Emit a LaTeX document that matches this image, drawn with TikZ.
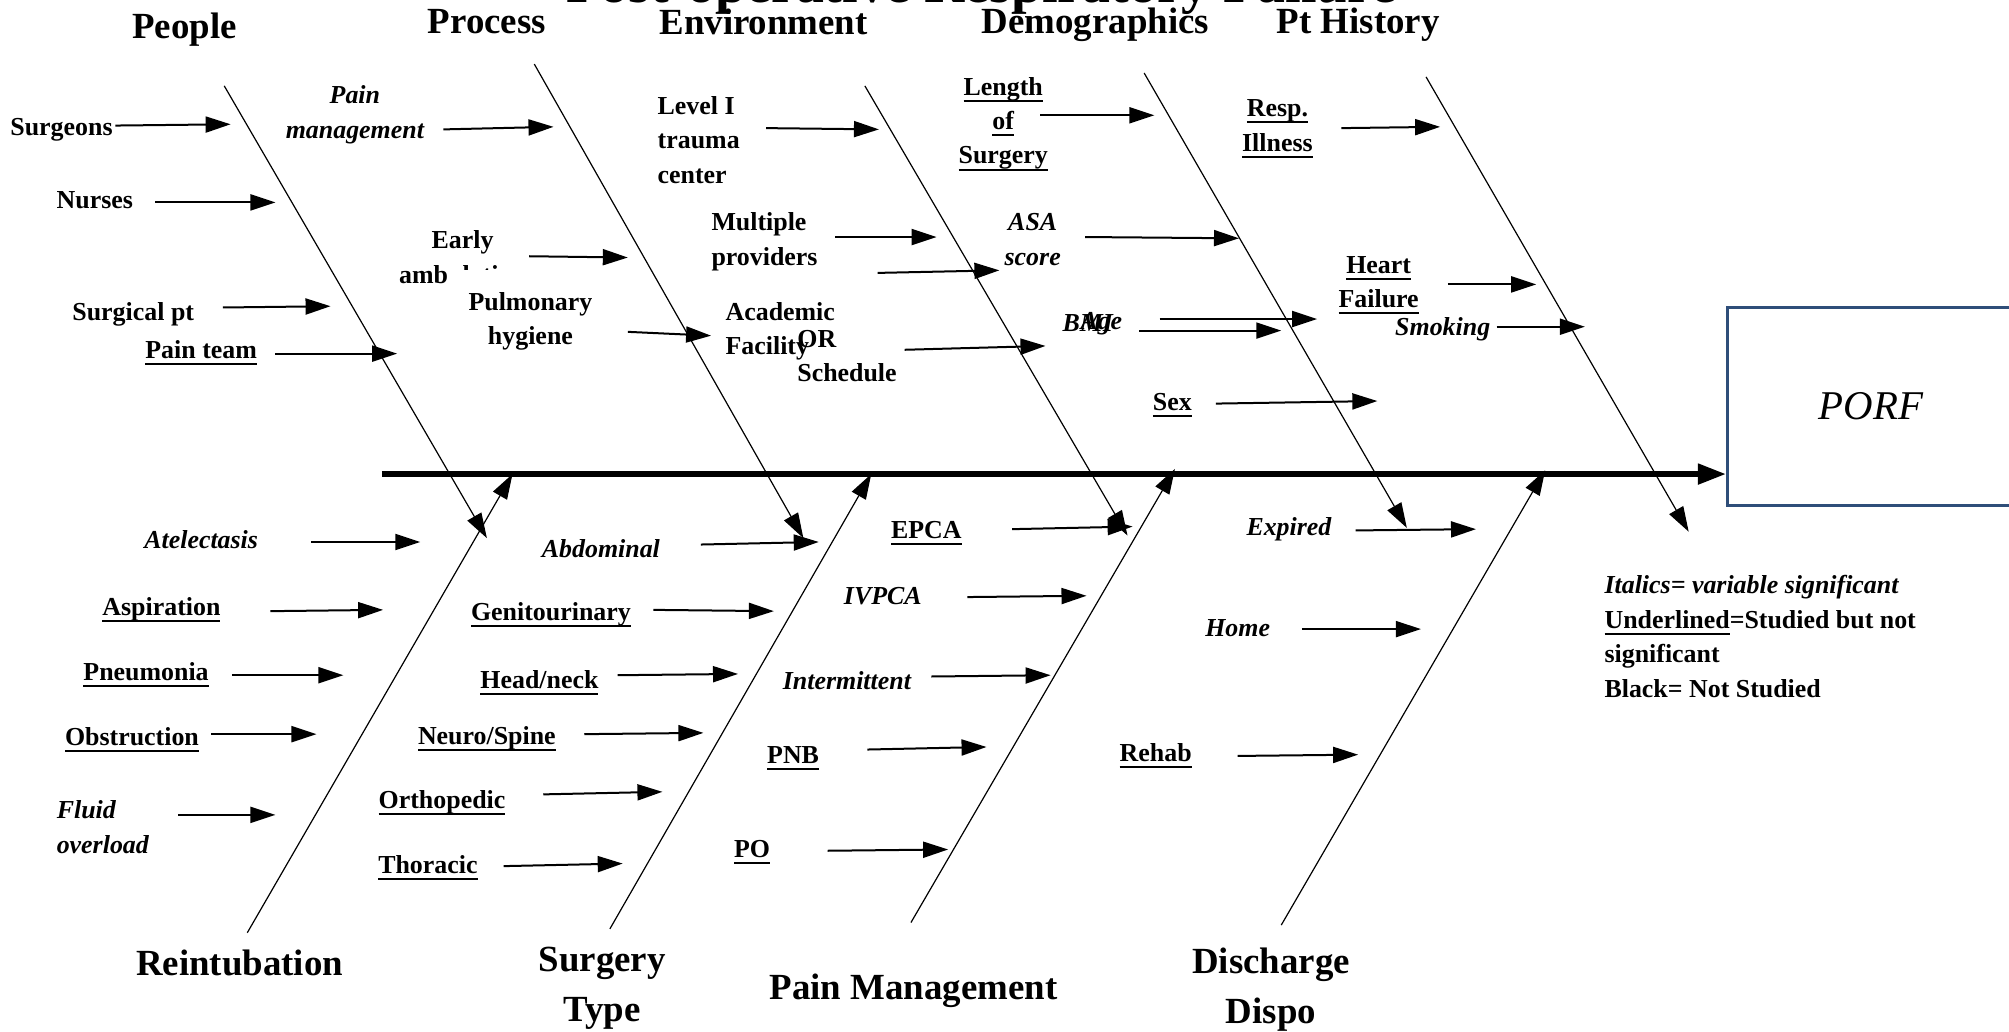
\documentclass[tikz,border=0pt]{standalone}
\usepackage{fontspec}
\setmainfont{Liberation Serif}
\usetikzlibrary{arrows.meta}

\definecolor{porfblue}{RGB}{47,78,121}

% underline at a fixed depth, as in the slide
\newcommand{\undl}[1]{\setbox0=\hbox{#1}\rlap{\rule[-3.3bp]{\wd0}{1bp}}\box0}

\tikzset{
  head/.style={font=\fontsize{18.5}{25}\selectfont\bfseries, inner sep=0pt, anchor=base, align=center},
  lbl/.style={font=\fontsize{13}{17.3}\selectfont\bfseries, inner sep=0pt, anchor=base, align=center},
  lblit/.style={lbl, font=\fontsize{13}{17.3}\selectfont\bfseries\itshape},
  lblleft/.style={lbl, align=left, anchor=base west},
  bone/.style={line width=0.6bp, -{Triangle[length=12.5bp,width=8bp]}},
  cause/.style={line width=1bp, -{Triangle[length=12.5bp,width=8bp]}},
  spine/.style={line width=2.6bp, -{Triangle[length=14bp,width=10bp]}}
}

\begin{document}
\begin{tikzpicture}[x=0.6406bp, y=-0.6406bp]
        \useasboundingbox (0,0) rectangle (1568,805);
        \clip (0,0) rectangle (1568,805);

        % Title, cut off by the top edge
        \node[font=\fontsize{28}{34}\selectfont\bfseries, inner sep=0pt, anchor=base] (title) at (766,2) {Post-operative Respiratory Failure};

        % Effect box and spine
        \node[draw=porfblue, line width=1.5bp, minimum width=143.5bp, minimum height=98.7bp, anchor=north west, inner sep=0pt, font=\fontsize{20.5}{24}\selectfont\itshape] (porf) at (1347,239) {PORF};
        \coordinate (spine) at (298,370);
        \draw[spine] (spine) -- (spine -| porf.west);

        % Category headers (multi-line ones sit on their last line)
        \node[head] (people) at (144,30) {People};
        \node[head] (process) at (380,26) {Process};
        \node[head] (environment) at (596,27) {Environment};
        \node[head] (demographics) at (855,26) {Demographics};
        \node[head] (pthistory) at (1060,26) {Pt History};
        \node[head] (reintubation) at (187,761) {Reintubation};
        \node[head] (surgerytype) at (470,797) {Surgery\\Type};
        \node[head] (painmgmt) at (713,780) {Pain Management};
        \node[head] (dispo) at (992,799) {Discharge\\Dispo};

        % Top bones (cross the spine)
        \coordinate (people-top) at (175,67);   \coordinate (people-end) at (380,420);
        \coordinate (process-top) at (417,50);  \coordinate (process-end) at (627,420);
        \coordinate (env-top) at (675,67);      \coordinate (env-end) at (880,418);
        \coordinate (demo-top) at (893,57);     \coordinate (demo-end) at (1098,412);
        \coordinate (hist-top) at (1113,60);    \coordinate (hist-end) at (1318,415);
        \draw[bone] (people-top) -- (people-end);
        \draw[bone] (process-top) -- (process-end);
        \draw[bone] (env-top) -- (env-end);
        \draw[bone] (demo-top) -- (demo-end);
        \draw[bone] (hist-top) -- (hist-end);

        % Bottom bones (end on the spine)
        \coordinate (reint-low) at (193,728);   \coordinate (reint-end) at (400,370);
        \coordinate (surg-low) at (476,725);    \coordinate (surg-end) at (680,370);
        \coordinate (pain-low) at (711,720);    \coordinate (pain-end) at (917,366);
        \coordinate (dispo-low) at (1000,722);  \coordinate (dispo-end) at (1206,367);
        \draw[bone] (reint-low) -- (reint-end);
        \draw[bone] (surg-low) -- (surg-end);
        \draw[bone] (pain-low) -- (pain-end);
        \draw[bone] (dispo-low) -- (dispo-end);

        % People
        \node[lbl] (surgeons) at (48,106) {Surgeons};
        \coordinate (surgeons-a) at (90,98);    \coordinate (surgeons-b) at (180,97);
        \node[lbl] (nurses) at (74,163) {Nurses};
        \coordinate (nurses-a) at (121,158);    \coordinate (nurses-b) at (215,158);
        \node[lbl] (surgpt) at (104,250) {Surgical pt};
        \coordinate (surgpt-a) at (174,240);    \coordinate (surgpt-b) at (258,239);
        \node[lbl] (painteam) at (157,280) {\undl{Pain team}};
        \coordinate (painteam-a) at (215,276);  \coordinate (painteam-b) at (310,276);
        \draw[cause] (surgeons-a) -- (surgeons-b);
        \draw[cause] (nurses-a) -- (nurses-b);
        \draw[cause] (surgpt-a) -- (surgpt-b);
        \draw[cause] (painteam-a) -- (painteam-b);

        % Process
        \node[lblit] (painman) at (277,108) {Pain\\management};
        \coordinate (painman-a) at (346,101);   \coordinate (painman-b) at (432,99);
        \node[lbl] (earlyamb) at (361,221) {Early\\ambulation};
        \coordinate (earlyamb-a) at (413,200);  \coordinate (earlyamb-b) at (490,201);
        \node[lbl, fill=white, inner xsep=11bp, inner ysep=11bp] (pulmonary) at (414,269) {Pulmonary\\hygiene};
        \coordinate (pulmonary-a) at (490,259); \coordinate (pulmonary-b) at (555,262);
        \draw[cause] (painman-a) -- (painman-b);
        \draw[cause] (earlyamb-a) -- (earlyamb-b);
        \draw[cause] (pulmonary-a) -- (pulmonary-b);

        % Environment
        \node[lblleft] (trauma) at (513,143) {Level I\\trauma\\center};
        \coordinate (trauma-a) at (598,100);    \coordinate (trauma-b) at (686,101);
        \node[lblleft] (providers) at (555,207) {Multiple\\providers};
        \coordinate (providers-a) at (652,185); \coordinate (providers-b) at (731,185);
        \coordinate (extra-a) at (685,213);     \coordinate (extra-b) at (780,211);
        \node[lblleft] (academic) at (566,277) {Academic\\Facility};
        \node[lblleft] (orsched) at (622,298) {OR\\Schedule};
        \coordinate (orsched-a) at (706,273);   \coordinate (orsched-b) at (816,270);
        \draw[cause] (trauma-a) -- (trauma-b);
        \draw[cause] (providers-a) -- (providers-b);
        \draw[cause] (extra-a) -- (extra-b);
        \draw[cause] (orsched-a) -- (orsched-b);

        % Demographics
        \node[lbl] (length) at (783,128) {\undl{Length}\\\undl{of}\\\undl{Surgery}};
        \coordinate (length-a) at (812,90);     \coordinate (length-b) at (901,90);
        \node[lblit] (asa) at (806,207) {ASA\\score};
        \coordinate (asa-a) at (847,185);       \coordinate (asa-b) at (967,186);
        \node[lblit, anchor=base west] (bmi) at (829,259) {BMI};
        \node[lblit, anchor=base west] (age) at (843,257) {Age};
        \coordinate (age-a) at (905,249);       \coordinate (age-b) at (1028,249);
        \coordinate (bmi-a) at (889,258);       \coordinate (bmi-b) at (1000,258);
        \node[lbl] (sex) at (915,320) {\undl{Sex}};
        \coordinate (sex-a) at (949,315);       \coordinate (sex-b) at (1075,313);
        \draw[cause] (length-a) -- (length-b);
        \draw[cause] (asa-a) -- (asa-b);
        \draw[cause] (age-a) -- (age-b);
        \draw[cause] (bmi-a) -- (bmi-b);
        \draw[cause] (sex-a) -- (sex-b);

        % Pt History
        \node[lbl] (resp) at (997,118) {\undl{Resp.}\\\undl{Illness}};
        \coordinate (resp-a) at (1047,100);     \coordinate (resp-b) at (1124,99);
        \node[lbl] (heart) at (1076,240) {\undl{Heart}\\\undl{Failure}};
        \coordinate (heart-a) at (1130,222);    \coordinate (heart-b) at (1199,222);
        \node[lblit] (smoking) at (1126,262) {Smoking};
        \coordinate (smoking-a) at (1168,255);  \coordinate (smoking-b) at (1237,255);
        \draw[cause] (resp-a) -- (resp-b);
        \draw[cause] (heart-a) -- (heart-b);
        \draw[cause] (smoking-a) -- (smoking-b);

        % Reintubation
        \node[lblit] (atelect) at (157,428) {Atelectasis};
        \coordinate (atelect-a) at (243,423);   \coordinate (atelect-b) at (328,423);
        \node[lbl] (aspir) at (126,480) {\undl{Aspiration}};
        \coordinate (aspir-a) at (211,477);     \coordinate (aspir-b) at (299,476);
        \node[lbl] (pneum) at (114,531) {\undl{Pneumonia}};
        \coordinate (pneum-a) at (181,527);     \coordinate (pneum-b) at (268,527);
        \node[lbl] (obstr) at (103,582) {\undl{Obstruction}};
        \coordinate (obstr-a) at (165,573);     \coordinate (obstr-b) at (247,573);
        \node[lblit, align=left, anchor=base west] (fluid) at (44,666) {Fluid\\overload};
        \coordinate (fluid-a) at (139,636);     \coordinate (fluid-b) at (215,636);
        \draw[cause] (atelect-a) -- (atelect-b);
        \draw[cause] (aspir-a) -- (aspir-b);
        \draw[cause] (pneum-a) -- (pneum-b);
        \draw[cause] (obstr-a) -- (obstr-b);
        \draw[cause] (fluid-a) -- (fluid-b);

        % Surgery Type
        \node[lblit] (abdom) at (469,435) {Abdominal};
        \coordinate (abdom-a) at (547,425);     \coordinate (abdom-b) at (639,423);
        \node[lbl] (genito) at (430,484) {\undl{Genitourinary}};
        \coordinate (genito-a) at (510,476);    \coordinate (genito-b) at (604,477);
        \node[lbl] (headneck) at (421,537) {\undl{Head/neck}};
        \coordinate (headneck-a) at (482,527);  \coordinate (headneck-b) at (576,526);
        \node[lbl] (neuro) at (380,581) {\undl{Neuro/Spine}};
        \coordinate (neuro-a) at (456,573);     \coordinate (neuro-b) at (549,572);
        \node[lbl] (ortho) at (345,631) {\undl{Orthopedic}};
        \coordinate (ortho-a) at (424,620);     \coordinate (ortho-b) at (517,618);
        \node[lbl] (thoracic) at (334,682) {\undl{Thoracic}};
        \coordinate (thoracic-a) at (393,676);  \coordinate (thoracic-b) at (486,674);
        \draw[cause] (abdom-a) -- (abdom-b);
        \draw[cause] (genito-a) -- (genito-b);
        \draw[cause] (headneck-a) -- (headneck-b);
        \draw[cause] (neuro-a) -- (neuro-b);
        \draw[cause] (ortho-a) -- (ortho-b);
        \draw[cause] (thoracic-a) -- (thoracic-b);

        % Pain Management
        \node[lbl] (epca) at (723,420) {\undl{EPCA}};
        \coordinate (epca-a) at (790,413);      \coordinate (epca-b) at (884,411);
        \node[lblit] (ivpca) at (689,472) {IVPCA};
        \coordinate (ivpca-a) at (755,466);     \coordinate (ivpca-b) at (848,465);
        \node[lblit] (intermit) at (661,538) {Intermittent};
        \coordinate (intermit-a) at (727,528);  \coordinate (intermit-b) at (820,527);
        \node[lbl] (pnb) at (619,596) {\undl{PNB}};
        \coordinate (pnb-a) at (677,585);       \coordinate (pnb-b) at (770,583);
        \node[lbl] (po) at (587,669) {\undl{PO}};
        \coordinate (po-a) at (646,664);        \coordinate (po-b) at (740,663);
        \draw[cause] (epca-a) -- (epca-b);
        \draw[cause] (ivpca-a) -- (ivpca-b);
        \draw[cause] (intermit-a) -- (intermit-b);
        \draw[cause] (pnb-a) -- (pnb-b);
        \draw[cause] (po-a) -- (po-b);

        % Discharge Dispo
        \node[lblit] (expired) at (1006,418) {Expired};
        \coordinate (expired-a) at (1058,414);  \coordinate (expired-b) at (1152,413);
        \node[lblit] (home) at (966,497) {Home};
        \coordinate (home-a) at (1016,491);     \coordinate (home-b) at (1109,491);
        \node[lbl] (rehab) at (902,594) {\undl{Rehab}};
        \coordinate (rehab-a) at (966,590);     \coordinate (rehab-b) at (1060,589);
        \draw[cause] (expired-a) -- (expired-b);
        \draw[cause] (home-a) -- (home-b);
        \draw[cause] (rehab-a) -- (rehab-b);

        % Legend
        \node[lblleft] (legend) at (1252,544) {{\itshape Italics= variable significant}\\\undl{Underlined}=Studied but not\\significant\\Black= Not Studied};
    \end{tikzpicture}
\end{document}
